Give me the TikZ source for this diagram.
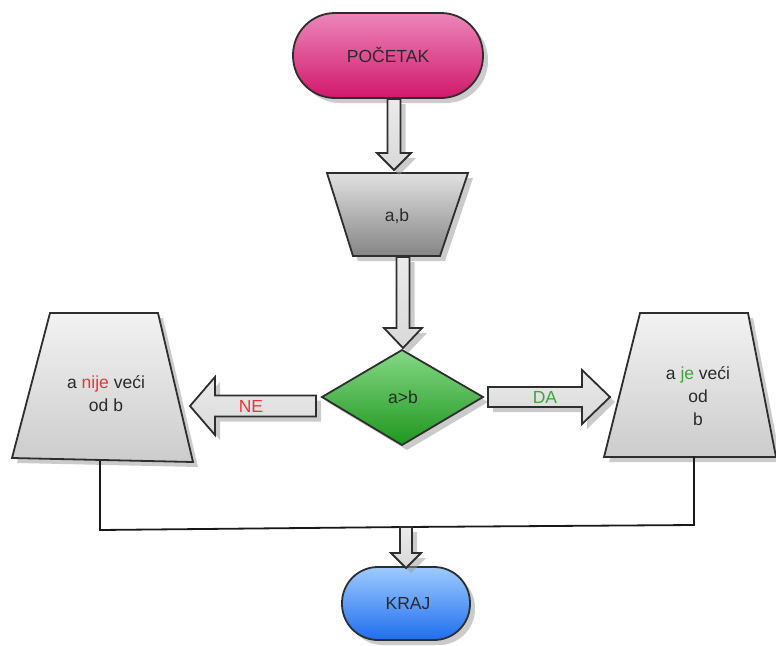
\documentclass[tikz,border=0pt]{standalone}
\usepackage{fontspec}
\setmainfont{Liberation Sans}
\usetikzlibrary{shadows,calc}
\definecolor{txt}{HTML}{2A2A2A}
\definecolor{edge}{HTML}{2E2E2E}
\definecolor{nored}{HTML}{E0383C}
\definecolor{dagreen}{HTML}{3AA83A}
\definecolor{pinktop}{HTML}{EC86BA}
\definecolor{pinkbot}{HTML}{D2186C}
\definecolor{greentop}{HTML}{86D886}
\definecolor{greenbot}{HTML}{1E961E}
\definecolor{bluetop}{HTML}{9ECBFF}
\definecolor{bluebot}{HTML}{1F6EEE}
\tikzset{
  shd/.style={drop shadow={shadow xshift=5pt, shadow yshift=-5pt, fill=black!40, opacity=0.5}},
  outline/.style={draw=edge, line width=1.8pt, line join=miter},
  barrow/.style={outline, shd, top color=white!92!black, bottom color=white!85!black},
  lbl/.style={font=\fontsize{17.5}{23}\selectfont, text=txt, align=center, inner sep=0pt},
  conn/.style={draw=black!90, line width=1.8pt},
}
% vertical block arrow: from coordinate #1 down to tip #2, shaft half #3, head half #4, head length #5
\newcommand\vblock[5]{%
  \path[barrow] let \p1=(#1), \p2=(#2) in
    (\x1-#3,\y1) -- (\x1+#3,\y1) -- (\x1+#3,\y2+#5) -- (\x1+#4,\y2+#5) -- (\x1,\y2)
    -- (\x1-#4,\y2+#5) -- (\x1-#3,\y2+#5) -- cycle;}
% horizontal block arrow: from #1 to tip #2 (same y), shaft half #3, head half #4, head length #5, direction #6 (+1 right, -1 left)
\newcommand\hblock[6]{%
  \path[barrow] let \p1=(#1), \p2=(#2) in
    (\x1,\y1-#3) -- (\x2-#6*#5,\y1-#3) -- (\x2-#6*#5,\y1-#4) -- (\x2,\y1)
    -- (\x2-#6*#5,\y1+#4) -- (\x2-#6*#5,\y1+#3) -- (\x1,\y1+#3) -- cycle;}
\begin{document}
\begin{tikzpicture}[x=1pt,y=-1pt]
\useasboundingbox (0,0) rectangle (776,645);
\fill[white] (0,0) rectangle (776,645);

% ---- shapes ----
% start
\path[outline, shd, top color=pinktop, bottom color=pinkbot, rounded corners=42pt]
  (293,13) rectangle (483,98);
\node[lbl] (start) at (388,55) {POČETAK};

% input a,b
\path[outline, shd, top color=white!88!black, bottom color=white!52!black]
  (327,173) -- (468,173) -- (440,256) -- (353,256) -- cycle;
\node[lbl] (input) at (397,216) {a,b};

% decision
\path[outline, shd, top color=greentop, bottom color=greenbot]
  (402,350) -- (483,397) -- (402,445) -- (322,397) -- cycle;
\node[lbl] (dec) at (403,397) {a>b};

% left output
\path[outline, shd, top color=white!95!black, bottom color=white!80!black]
  (50,313) -- (158,313) -- (193,462) -- (12,458) -- cycle;
\node[lbl] (no) at (106,394) {a \textcolor{nored}{nije} veći\\od b};

% right output
\path[outline, shd, top color=white!95!black, bottom color=white!80!black]
  (640,313) -- (748,313) -- (776,457) -- (604,457) -- cycle;
\node[lbl] (yes) at (698,396) {a \textcolor{dagreen}{je} veći\\od\\b};

% end
\path[outline, shd, top color=bluetop, bottom color=bluebot, rounded corners=36pt]
  (342,567) rectangle (470,640);
\node[lbl] (stop) at (408,604) {KRAJ};

% ---- block arrows ----
\coordinate (a1s) at (394,99);
\coordinate (a1e) at (394,170);
\vblock{a1s}{a1e}{6.5pt}{17pt}{17pt}

\coordinate (a2s) at (403,257);
\coordinate (a2e) at (403,348);
\vblock{a2s}{a2e}{6.5pt}{19pt}{20pt}

\coordinate (a3s) at (316,406);
\coordinate (a3e) at (190,406);
\hblock{a3s}{a3e}{10.5pt}{29pt}{25pt}{-1}
\node[lbl, text=nored] (nolbl) at (251,406) {NE};

\coordinate (a4s) at (488,397);
\coordinate (a4e) at (610,397);
\hblock{a4s}{a4e}{10pt}{27pt}{28pt}{1}
\node[lbl, text=dagreen] (yeslbl) at (545,397) {DA};

% ---- connectors to the merge ----
\coordinate (lb) at (100,461);
\coordinate (lc) at (100,530);
\coordinate (mj) at (406,527);
\coordinate (rc) at (694,525);
\coordinate (rb) at (694,457);
\draw[conn] (lb) -- (lc) -- (mj) -- (rc) -- (rb);

\coordinate (a5e) at (406,568);
\vblock{mj}{a5e}{6pt}{15pt}{15pt}
\end{tikzpicture}
\end{document}
